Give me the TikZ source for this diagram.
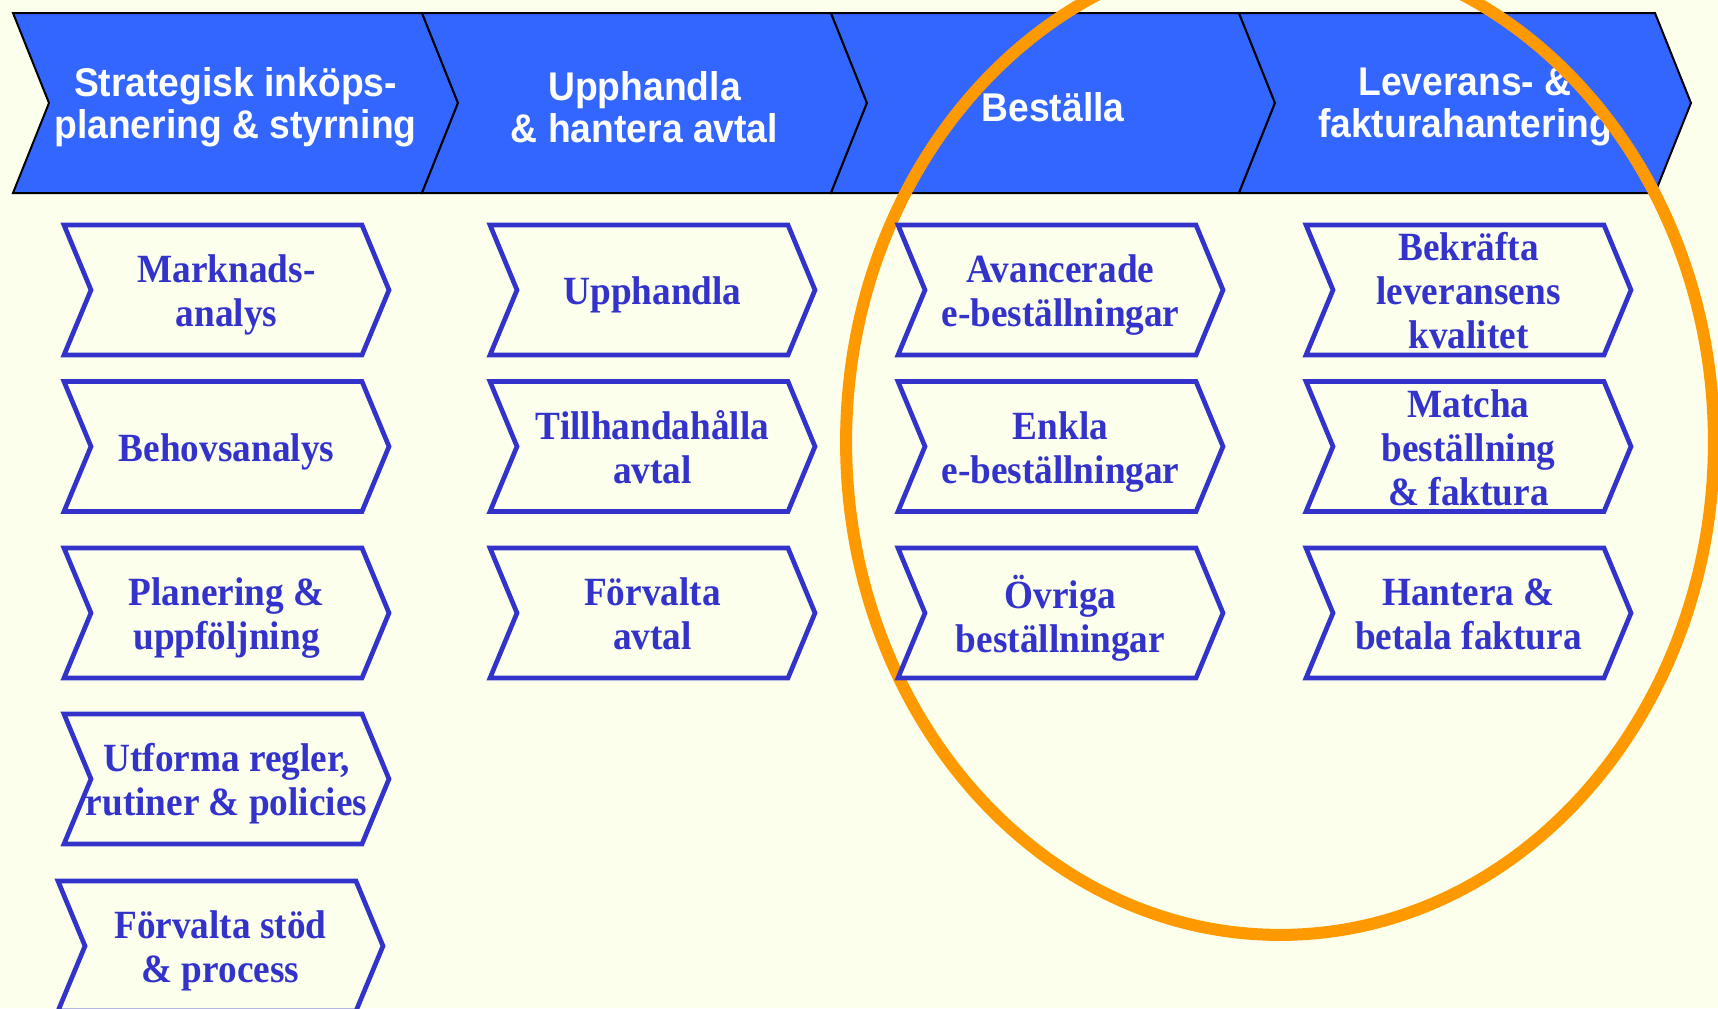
\documentclass[tikz,border=0pt]{standalone}
\usepackage{fontspec}
\setmainfont{Liberation Serif}[FakeStretch=0.93]
\newfontfamily\headfont{Liberation Sans}[FakeStretch=0.93]
\usepackage{tikz}
\definecolor{headblue}{HTML}{3366FF}
\definecolor{boxblue}{HTML}{3333CC}
\definecolor{paper}{HTML}{FBFFEB}
\definecolor{ringorange}{HTML}{FF9900}
\def\headchev(#1,#2)#3#4{
    \draw [headline] (#1,13) -- (#2,13) -- ++(36,90) -- ++(-36,90) -- (#1,193) -- ++(36,-90) -- cycle;
    \node [headtext] (#3) at ({(#1+#2)/2+18},107) {#4};
}
\def\procbox(#1,#2)#3#4{
    \draw [procline] (#1,#2) -- ++(298,0) -- ++(27,65) -- ++(-27,65) -- ++(-298,0) -- ++(27,-65) -- cycle;
    \node [proctext] (#3) at ({#1+162.5},{#2+70}) {#4};
}
\tikzset{
    headline/.style={draw=black, line width=0.04cm, fill=headblue},
    headtext/.style={text=white, align=center, font=\headfont\bfseries\fontsize{22.8}{23.7}\selectfont},
    procline/.style={draw=boxblue, line width=0.094cm, fill=paper},
    proctext/.style={text=boxblue, align=center, text depth=0.17cm, font=\bfseries\fontsize{22.8}{25}\selectfont},
    ring/.style={draw=ringorange, line width=0.24cm}
}

\begin{document}
\begin{tikzpicture}[x=0.02cm, y=-0.02cm]
    \useasboundingbox (0,0) rectangle (1718,1008);
    \fill [paper] (0,0) rectangle (1718,1008);
    \clip (0,0) rectangle (1718,1008);

    \headchev(13,422){plan}{Strategisk inköps-\\planering \& styrning}
    \headchev(422,831){upph}{Upphandla\\\& hantera avtal}
    \headchev(831,1239){best}{Beställa}
    \headchev(1239,1655){lev}{Leverans- \&\\fakturahantering}

    \draw [ring] (1280,442) ellipse [x radius=8.68cm, y radius=9.86cm];

    \procbox(64,225){mark}{Marknads-\\analys}
    \procbox(64,381.5){behov}{Behovsanalys}
    \procbox(64,548){planupp}{Planering \&\\uppföljning}
    \procbox(64,714){regler}{Utforma regler,\\rutiner \& policies}
    \procbox(58,881){stod}{Förvalta stöd\\\& process}

    \procbox(490,225){upphandla}{Upphandla}
    \procbox(490,381.5){tillh}{Tillhandahålla\\avtal}
    \procbox(490,548){forv}{Förvalta\\avtal}

    \procbox(898,225){avanc}{Avancerade\\e-beställningar}
    \procbox(898,381.5){enkla}{Enkla\\e-beställningar}
    \procbox(898,548){ovriga}{Övriga\\beställningar}

    \procbox(1306,225){bekr}{Bekräfta\\leveransens\\kvalitet}
    \procbox(1306,381.5){matcha}{Matcha\\beställning\\\& faktura}
    \procbox(1306,548){hantera}{Hantera \&\\betala faktura}
\end{tikzpicture}
\end{document}
